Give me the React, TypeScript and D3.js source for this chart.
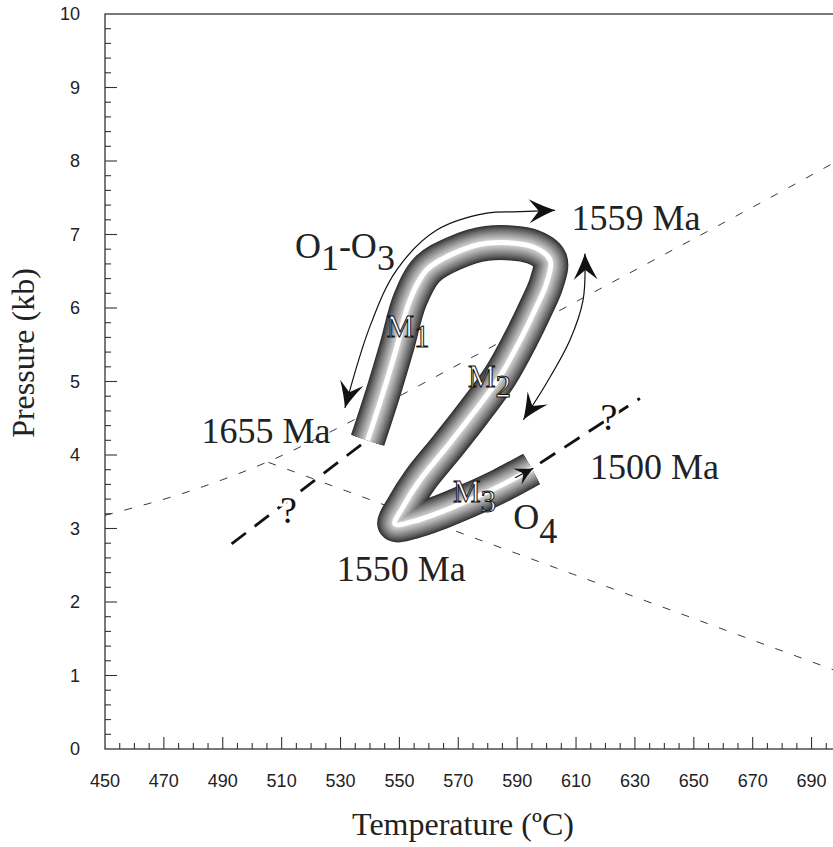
import React, { useRef, useEffect } from "react";
import * as d3 from "d3";

const width = 833;
const height = 847;

const xTickLabels = [450, 470, 490, 510, 530, 550, 570, 590, 610, 630, 650, 670, 690];
const yTickLabels = [0, 1, 2, 3, 4, 5, 6, 7, 8, 9, 10];

// thin dashed reaction curves, [T (°C), P (kb)]
const reactionA: [number, number][] = [
  [450, 3.18], [478.9, 3.51], [506, 3.92], [533.2, 4.45],
  [567.2, 5.17], [618.1, 6.26], [697.3, 7.97], [700, 8.03],
];
const reactionB: [number, number][] = [[505.5, 3.9], [700, 1.04]];

// thick dashed "?" extensions of the path
const extensionEarly: [number, number][] = [[493, 2.79], [538.3, 4.18]];
const extensionLate: [number, number][] = [[597.8, 3.89], [631.7, 4.77]];

// the P-T path (tube)
const ptPath: [number, number][] = [
  [539.2, 4.2], [544.4, 4.84], [549.1, 5.47], [553.6, 6.11], [559.3, 6.52],
  [568.3, 6.74], [579.7, 6.88], [595.5, 6.83], [601.2, 6.65], [600.0, 6.34],
  [596.6, 6.02], [591.0, 5.56], [584.2, 5.07], [575.1, 4.57], [566.1, 4.11],
  [557.0, 3.66], [551.3, 3.3], [548.5, 3.06], [555.0, 3.1], [563.8, 3.22],
  [574.0, 3.39], [584.2, 3.58], [594.9, 3.81],
];

// curved arrows
const arrowO1O3: [number, number][] = [
  [531.5, 4.64], [540.0, 5.75], [549.1, 6.52], [562.7, 7.06],
  [579.7, 7.29], [591.0, 7.31], [602.9, 7.33],
];
const arrowM2: [number, number][] = [
  [613.0, 6.74], [612.4, 6.11], [607.9, 5.56], [600.0, 4.98], [592.1, 4.48],
];
const arrowM3: [number, number][] = [[589.3, 3.69], [595.5, 3.82]];

const ageLabels = [
  { text: "1559 Ma", t: 608.5, p: 7.06 },
  { text: "1655 Ma", t: 482.8, p: 4.16 },
  { text: "1500 Ma", t: 614.7, p: 3.68 },
  { text: "1550 Ma", t: 528.7, p: 2.28 },
];

const oLabels = [
  { t: 514.5, p: 6.68, shift: 12, parts: [["O", 0], ["1", 1], ["-O", 0], ["3", 1]] },
  { t: 588.7, p: 3.0, shift: 14, parts: [["O", 0], ["4", 1]] },
];

const mLabels = [
  { sub: "1", t: 545.6, p: 5.61 },
  { sub: "2", t: 573.3, p: 4.93 },
  { sub: "3", t: 568.2, p: 3.36 },
];

const questionMarks = [
  { t: 512.3, p: 3.07 },
  { t: 621.2, p: 4.34 },
];

const serif = "'Liberation Serif', 'Times New Roman', serif";
const sans = "'Liberation Sans', Arial, sans-serif";

function PTChart() {
  const svgRef = useRef<SVGSVGElement>(null);

  useEffect(() => {
    const svg = d3.select(svgRef.current);
    svg.selectAll("*").remove();

    const x = d3.scaleLinear().domain([450, 700]).range([105, 841]);
    const y = d3.scaleLinear().domain([0, 10]).range([749, 14]);

    const defs = svg.append("defs");
    const marker = (id: string, len: number, half: number) =>
      defs
        .append("marker")
        .attr("id", id)
        .attr("markerUnits", "userSpaceOnUse")
        .attr("viewBox", `${-len - 2} ${-half - 2} ${len + 4} ${half * 2 + 4}`)
        .attr("markerWidth", len + 4)
        .attr("markerHeight", half * 2 + 4)
        .attr("refX", 0)
        .attr("refY", 0)
        .attr("orient", "auto-start-reverse")
        .append("path")
        .attr(
          "d",
          `M0,0 Q${-len * 0.45},${-half * 0.35} ${-len},${-half} L${-len * 0.63},0 L${-len},${half} Q${-len * 0.45},${half * 0.35} 0,0Z`
        )
        .attr("fill", "#111");
    marker("head", 26, 12);
    marker("headSmall", 18, 9);

    // frame
    svg
      .append("rect")
      .attr("x", x(450))
      .attr("y", y(10))
      .attr("width", x(700) - x(450))
      .attr("height", y(0) - y(10))
      .attr("fill", "none")
      .attr("stroke", "#333")
      .attr("stroke-width", 1.3);

    // x ticks (inside, pointing up)
    svg
      .selectAll(".xtick")
      .data(d3.range(455, 700, 5))
      .join("line")
      .attr("x1", (d) => x(d))
      .attr("x2", (d) => x(d))
      .attr("y1", y(0))
      .attr("y2", (d) => y(0) - ((d - 450) % 20 === 0 ? 12 : 6))
      .attr("stroke", "#333")
      .attr("stroke-width", 1.1);

    svg
      .selectAll(".xlabel")
      .data(xTickLabels)
      .join("text")
      .attr("x", (d) => x(d))
      .attr("y", 787)
      .attr("text-anchor", "middle")
      .attr("font-family", sans)
      .attr("font-size", 18)
      .attr("fill", "#222")
      .text((d) => d);

    // y ticks (inside, pointing right)
    svg
      .selectAll(".ytick")
      .data(d3.range(1, 50).map((i) => i * 0.2))
      .join("line")
      .attr("x1", x(450))
      .attr("x2", (d, i) => x(450) + ((i + 1) % 5 === 0 ? 12 : 6))
      .attr("y1", (d) => y(d))
      .attr("y2", (d) => y(d))
      .attr("stroke", "#333")
      .attr("stroke-width", 1.1);

    svg
      .selectAll(".ylabel")
      .data(yTickLabels)
      .join("text")
      .attr("x", 80)
      .attr("y", (d) => y(d))
      .attr("dy", "0.36em")
      .attr("text-anchor", "end")
      .attr("font-family", sans)
      .attr("font-size", 18)
      .attr("fill", "#222")
      .text((d) => d);

    // axis titles
    svg
      .append("text")
      .attr("x", 463)
      .attr("y", 835)
      .attr("text-anchor", "middle")
      .attr("font-family", serif)
      .attr("font-size", 32)
      .attr("fill", "#222")
      .text("Temperature (ºC)");

    svg
      .append("text")
      .attr("transform", "translate(34,353) rotate(-90)")
      .attr("text-anchor", "middle")
      .attr("font-family", serif)
      .attr("font-size", 32)
      .attr("fill", "#222")
      .text("Pressure (kb)");

    const smooth = d3
      .line<[number, number]>()
      .x((d) => x(d[0]))
      .y((d) => y(d[1]))
      .curve(d3.curveMonotoneX);
    const straight = d3
      .line<[number, number]>()
      .x((d) => x(d[0]))
      .y((d) => y(d[1]));
    const round = d3
      .line<[number, number]>()
      .x((d) => x(d[0]))
      .y((d) => y(d[1]))
      .curve(d3.curveCatmullRom.alpha(0.5));

    // thin dashed reactions
    [reactionA, reactionB].forEach((r, i) => {
      svg
        .append("path")
        .attr("d", i === 0 ? smooth(r) : straight(r))
        .attr("fill", "none")
        .attr("stroke", "#222")
        .attr("stroke-width", 0.9)
        .attr("stroke-dasharray", "8 12");
    });

    // thick dashed extensions
    [extensionEarly, extensionLate].forEach((r) => {
      svg
        .append("path")
        .attr("d", straight(r))
        .attr("fill", "none")
        .attr("stroke", "#111")
        .attr("stroke-width", 2.8)
        .attr("stroke-dasharray", "18 11");
    });

    // question marks
    svg
      .selectAll(".q")
      .data(questionMarks)
      .join("text")
      .attr("x", (d) => x(d.t))
      .attr("y", (d) => y(d.p))
      .attr("text-anchor", "middle")
      .attr("font-family", serif)
      .attr("font-size", 38)
      .attr("fill", "#111")
      .attr("stroke", "#fff")
      .attr("stroke-width", 6)
      .attr("paint-order", "stroke")
      .text("?");

    // shaded tube for the P-T path: stacked strokes, dark rim to white core
    const layers = d3.range(16).map((i) => ({ w: 35 - 2 * i, t: i / 15 }));
    svg
      .selectAll(".tube")
      .data(layers)
      .join("path")
      .attr("class", "tube")
      .attr("d", round(ptPath))
      .attr("fill", "none")
      .attr("stroke-linecap", "butt")
      .attr("stroke-linejoin", "round")
      .attr("stroke-width", (d) => d.w)
      .attr("stroke", (d) => {
        const g = d.t === 1 ? 255 : Math.round(48 + 165 * Math.pow(d.t, 0.85));
        return d3.rgb(g, g, g).toString();
      });

    // arrows
    svg
      .selectAll(".arrow")
      .data([arrowO1O3, arrowM2])
      .join("path")
      .attr("d", (d) => round(d))
      .attr("fill", "none")
      .attr("stroke", "#111")
      .attr("stroke-width", 1.2)
      .attr("marker-start", "url(#head)")
      .attr("marker-end", "url(#head)");

    svg
      .append("path")
      .attr("d", straight(arrowM3))
      .attr("fill", "none")
      .attr("stroke", "#111")
      .attr("stroke-width", 1.2)
      .attr("marker-end", "url(#headSmall)");

    // age labels
    svg
      .selectAll(".age")
      .data(ageLabels)
      .join("text")
      .attr("x", (d) => x(d.t))
      .attr("y", (d) => y(d.p))
      .attr("font-family", serif)
      .attr("font-size", 36)
      .attr("fill", "#222")
      .text((d) => d.text);

    // O labels with subscripts
    oLabels.forEach((l) => {
      const txt = svg
        .append("text")
        .attr("x", x(l.t))
        .attr("y", y(l.p))
        .attr("font-family", serif)
        .attr("font-size", 36)
        .attr("fill", "#222");
      let down = false;
      l.parts.forEach(([s, sub]) => {
        const dy = sub && !down ? l.shift : !sub && down ? -l.shift : 0;
        down = !!sub;
        txt.append("tspan").attr("dy", dy).text(s as string);
      });
    });

    // M labels (outlined white)
    mLabels.forEach((l) => {
      const txt = svg
        .append("text")
        .attr("x", x(l.t))
        .attr("y", y(l.p))
        .attr("font-family", serif)
        .attr("font-size", 31)
        .attr("fill", "#fff")
        .attr("stroke", "#111")
        .attr("stroke-width", 1);
      txt.append("tspan").text("M");
      txt.append("tspan").attr("dy", 10).text(l.sub);
    });
  }, []);

  return (
    <div style={{ position: "absolute", left: 0, top: 0 }}>
      <svg ref={svgRef} width={width} height={height} style={{ display: "block", background: "#fff" }}></svg>
    </div>
  );
}

export default function App() {
  return <PTChart />;
}
